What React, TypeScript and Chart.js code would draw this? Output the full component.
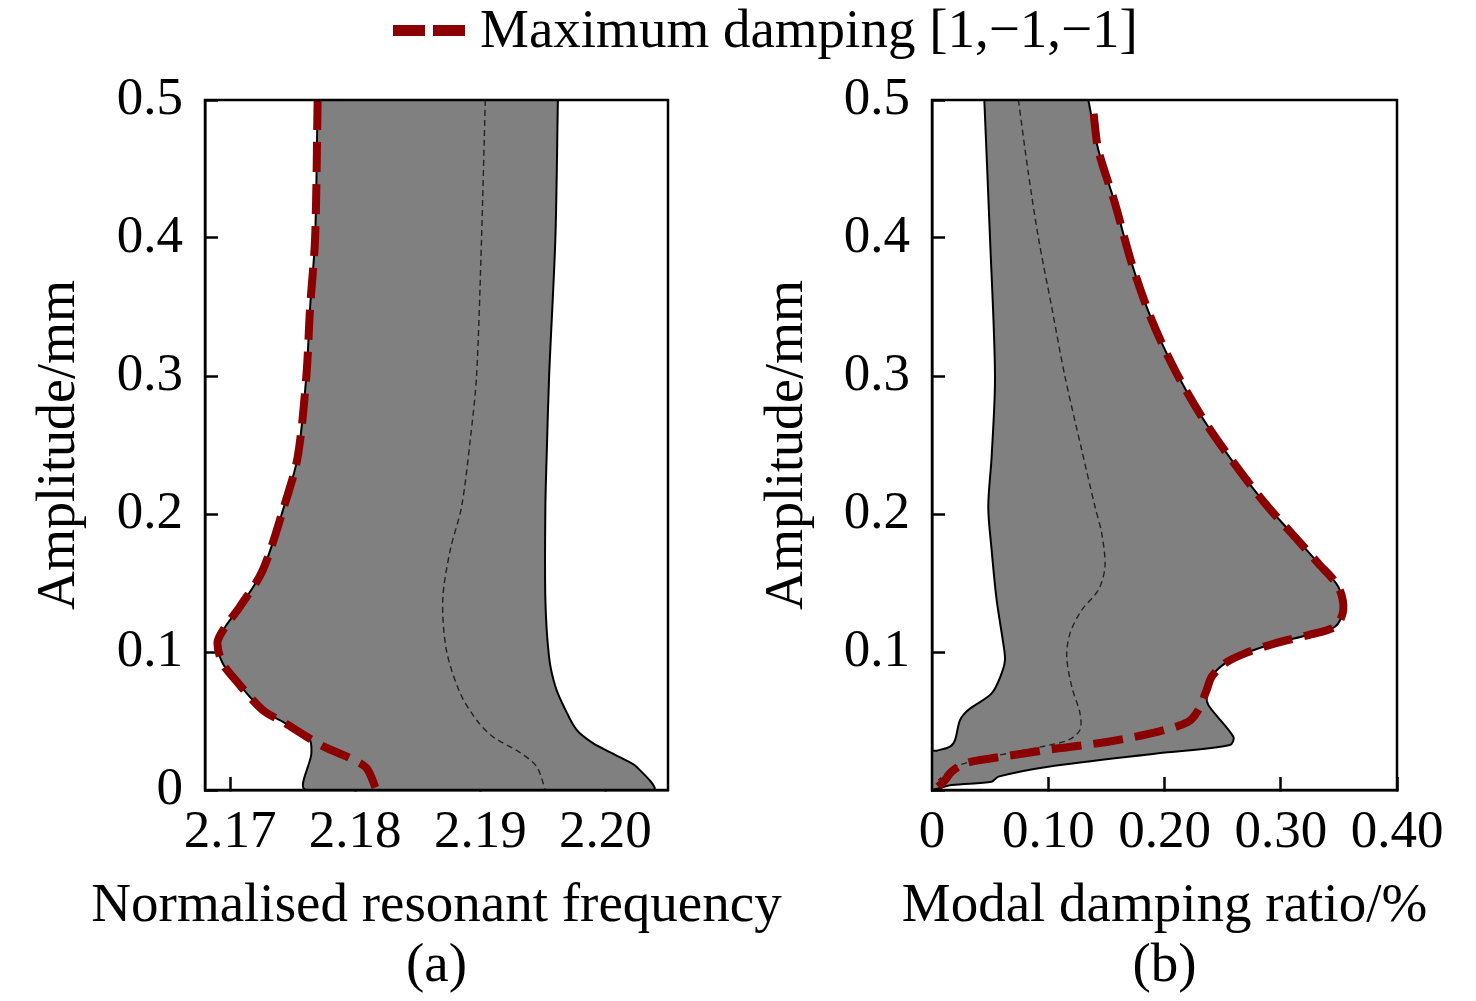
import { useEffect, useRef } from 'react';
import { Chart, registerables } from 'chart.js';

Chart.register(...registerables);

const SERIF = "'Liberation Serif', 'Times New Roman', serif";
const RED = '#8b0000';
const GREY = '#808080';

// (a) normalised resonant frequency vs amplitude
const freqAmpLower = [0.5, 0.4, 0.35, 0.3, 0.241, 0.205, 0.159, 0.133, 0.118, 0.107, 0.092, 0.078, 0.058, 0.049, 0.0377, 0.0265, 0];
const freqLower = [2.1770, 2.1768, 2.1764, 2.1761, 2.1754, 2.1743, 2.1726, 2.1708, 2.1696, 2.1690, 2.1694, 2.1706, 2.1726, 2.1743, 2.1763, 2.1765, 2.1761];
const freqAmpUpper = [0.5, 0.4, 0.3, 0.241, 0.205, 0.138, 0.096, 0.075, 0.060, 0.0435, 0.034, 0.024, 0.0167, 0];
const freqUpper = [2.1962, 2.1960, 2.1955, 2.1953, 2.1952, 2.1952, 2.1955, 2.1960, 2.1967, 2.1977, 2.1990, 2.2011, 2.2025, 2.2038];
const freqAmpMid = [0.5, 0.4, 0.3, 0.254, 0.205, 0.174, 0.138, 0.101, 0.070, 0.0507, 0.0386, 0.027, 0.017, 0];
const freqMid = [2.1904, 2.1901, 2.1897, 2.1892, 2.1885, 2.1876, 2.1870, 2.1873, 2.1884, 2.1897, 2.1910, 2.1932, 2.1945, 2.1952];
const freqAmpMax = [0.5, 0.4, 0.35, 0.3, 0.241, 0.205, 0.159, 0.133, 0.118, 0.107, 0.092, 0.078, 0.058, 0.049, 0.0377, 0.0314, 0.023, 0.016, 0];
const freqMax = [2.1770, 2.1768, 2.1764, 2.1761, 2.1754, 2.1743, 2.1726, 2.1708, 2.1696, 2.1690, 2.1694, 2.1706, 2.1726, 2.1743, 2.1763, 2.1775, 2.1796, 2.1809, 2.1817];
const freqTicks = [2.17, 2.18, 2.19, 2.20];

// (b) modal damping ratio vs amplitude
const dampAmpLower = [0.5, 0.4, 0.3, 0.2415, 0.2053, 0.1739, 0.1377, 0.1063, 0.0942, 0.0845, 0.07, 0.058, 0.0507, 0.0362, 0.0314, 0.0285, 0.028];
const dampLower = [0.045, 0.0499, 0.0542, 0.0513, 0.0484, 0.0513, 0.0556, 0.0613, 0.0628, 0.0599, 0.0513, 0.0312, 0.0241, 0.0198, 0.0155, 0.004, 0];
const dampAmpUpper = [0.5, 0.4638, 0.4251, 0.3816, 0.3406, 0.3043, 0.2705, 0.2391, 0.2077, 0.186, 0.1643, 0.1473, 0.1304, 0.1183, 0.1123, 0.1063, 0.099, 0.0918, 0.0821, 0.07, 0.0616, 0.0386, 0.0326, 0.0266, 0.0169, 0.0097, 0.006, 0.0036, 0];
const dampUpper = [0.1345, 0.1431, 0.1574, 0.1718, 0.1890, 0.2090, 0.2320, 0.2578, 0.2865, 0.3094, 0.3323, 0.3495, 0.3538, 0.3467, 0.3237, 0.2951, 0.2692, 0.2520, 0.2406, 0.2363, 0.2377, 0.2592, 0.2563, 0.1947, 0.1000, 0.0571, 0.0513, 0.0169, 0];
const dampAmpMid = [0.5, 0.4469, 0.4003, 0.3502, 0.2995, 0.2464, 0.2053, 0.186, 0.1618, 0.1449, 0.1304, 0.1135, 0.0966, 0.0749, 0.0556, 0.0435, 0.0362, 0.0314, 0.0241, 0.0169, 0.0072];
const dampMid = [0.0743, 0.0829, 0.0915, 0.1029, 0.1144, 0.1288, 0.1402, 0.146, 0.1488, 0.1431, 0.1288, 0.1187, 0.1159, 0.1202, 0.1273, 0.1273, 0.1173, 0.0944, 0.0513, 0.0198, 0.0054];
const dampAmpMax = [0.49, 0.4638, 0.4251, 0.3816, 0.3406, 0.3043, 0.2705, 0.2391, 0.2077, 0.186, 0.1643, 0.1473, 0.1304, 0.1183, 0.1123, 0.1063, 0.099, 0.0918, 0.0821, 0.0725, 0.058, 0.0495, 0.0423, 0.035, 0.0302, 0.0266, 0.023, 0.0193, 0.0133, 0.0072, 0.0024];
const dampMax = [0.139, 0.1431, 0.1574, 0.1718, 0.1890, 0.2090, 0.2320, 0.2578, 0.2865, 0.3094, 0.3323, 0.3495, 0.3538, 0.3467, 0.3237, 0.2951, 0.2692, 0.2520, 0.2406, 0.2363, 0.2291, 0.2205, 0.1947, 0.1517, 0.1087, 0.0800, 0.0513, 0.0284, 0.0169, 0.0112, 0.0054];
const dampTicks = [0, 0.1, 0.2, 0.3, 0.4];

const ampTicks = [0, 0.1, 0.2, 0.3, 0.4, 0.5];

const pts = (xs: number[], ys: number[]) => xs.map((x, i) => ({ x, y: ys[i] }));

// lower edge top->bottom, then upper edge bottom->top : closed band
const band = (lx: number[], ly: number[], ux: number[], uy: number[]) =>
    [...pts(lx, ly), ...pts(ux, uy).reverse()];

const framePlugin = {
    id: 'frame',
    afterDraw(chart: any) {
        const { ctx, chartArea: a } = chart;
        ctx.save();
        ctx.lineWidth = 2.5;
        ctx.strokeStyle = '#000';
        ctx.strokeRect(a.left, a.top, a.right - a.left, a.bottom - a.top);
        ctx.restore();
    }
};

interface PanelProps {
    left: number,
    width: number,
    band: { x: number, y: number }[],
    mid: { x: number, y: number }[],
    max: { x: number, y: number }[],
    xMin: number,
    xMax: number,
    xTicks: number[],
    xFmt: (v: number) => string,
    xTitle: string[],
    yFmt: (v: number) => string,
    yWidth: number,
    yTitlePad: number,
    padRight: number
}

const Panel = (props: PanelProps) => {
    const canvasRef = useRef<HTMLCanvasElement>(null);

    useEffect(() => {
        const ctx = canvasRef.current?.getContext('2d');
        if (!ctx) return;

        const tickFont = { family: SERIF, size: 53, lineHeight: 1.2 };
        const line = { pointRadius: 0, pointHoverRadius: 0, tension: 0.3 };

        // x title drawn by hand so it may run wider than the plot area
        const xTitlePlugin = {
            id: 'xTitle',
            afterDraw(chart: any) {
                const { ctx: c, chartArea: a } = chart;
                c.save();
                c.fillStyle = '#000';
                c.font = `55px ${SERIF}`;
                c.textAlign = 'center';
                c.textBaseline = 'middle';
                props.xTitle.forEach((t, i) => c.fillText(t, (a.left + a.right) / 2, 907 + i * 60));
                c.restore();
            }
        };

        const chart = new Chart(ctx, {
            type: 'line',
            data: {
                datasets: [
                    { ...line, data: props.max, borderColor: RED, borderWidth: 8, borderDash: [30, 12], fill: false },
                    { ...line, data: props.mid, borderColor: '#222', borderWidth: 1.4, borderDash: [6, 4], fill: false },
                    { ...line, data: props.band, borderColor: '#000', borderWidth: 2, backgroundColor: GREY, fill: 'shape' }
                ]
            } as any,
            options: {
                animation: false,
                responsive: false,
                events: [],
                layout: { padding: { top: 100, right: props.padRight, bottom: 0, left: 0 } },
                plugins: { legend: { display: false }, tooltip: { enabled: false } },
                scales: {
                    x: {
                        type: 'linear',
                        position: 'bottom',
                        min: props.xMin,
                        max: props.xMax,
                        z: 1,
                        afterFit: (s: any) => { s.height = 211; },
                        afterBuildTicks: (s: any) => { s.ticks = props.xTicks.map((value) => ({ value })); },
                        grid: { drawOnChartArea: false, tickLength: -13, tickWidth: 2.5, tickColor: '#000' },
                        border: { display: true, color: '#000', width: 2.5 },
                        ticks: { padding: 24, color: '#000', font: tickFont, maxRotation: 0, autoSkip: false, callback: (v: any) => props.xFmt(Number(v)) },
                        title: { display: false }
                    },
                    y: {
                        type: 'linear',
                        min: 0,
                        max: 0.5,
                        z: 1,
                        afterFit: (s: any) => { s.width = props.yWidth; },
                        afterBuildTicks: (s: any) => { s.ticks = ampTicks.map((value) => ({ value })); },
                        grid: { drawOnChartArea: false, tickLength: -13, tickWidth: 2.5, tickColor: '#000' },
                        border: { display: true, color: '#000', width: 2.5 },
                        ticks: { padding: 35, color: '#000', font: tickFont, autoSkip: false, callback: (v: any) => props.yFmt(Number(v)) },
                        title: { display: true, text: 'Amplitude/mm', color: '#000', font: { family: SERIF, size: 54, lineHeight: 1.2 }, padding: { top: props.yTitlePad, bottom: 0 } }
                    }
                }
            } as any,
            plugins: [framePlugin, xTitlePlugin]
        });

        return () => {
            chart.destroy();
        };
    }, []);

    return (
        <canvas
            ref={canvasRef}
            width={props.width}
            height={1001}
            style={{ position: 'absolute', left: props.left, top: 0, width: props.width, height: 1001 }}
        />
    );
};

export default function App() {
    return (
        <div style={{ position: 'fixed', left: 0, top: 0, width: 1476, height: 1001, background: '#fff', overflow: 'hidden' }}>
            <Panel
                left={0}
                width={820}
                band={band(freqLower, freqAmpLower, freqUpper, freqAmpUpper)}
                mid={pts(freqMid, freqAmpMid)}
                max={pts(freqMax, freqAmpMax)}
                xMin={2.168}
                xMax={2.205}
                xTicks={freqTicks}
                xFmt={(v) => v.toFixed(2)}
                xTitle={['Normalised resonant frequency', '(a)']}
                yFmt={(v) => (v === 0 ? '0' : v.toFixed(1))}
                yWidth={205}
                yTitlePad={27}
                padRight={152}
            />
            <Panel
                left={720}
                width={756}
                band={band(dampLower, dampAmpLower, dampUpper, dampAmpUpper)}
                mid={pts(dampMid, dampAmpMid)}
                max={pts(dampMax, dampAmpMax)}
                xMin={0}
                xMax={0.4}
                xTicks={dampTicks}
                xFmt={(v) => (v === 0 ? '0' : v.toFixed(2))}
                xTitle={['Modal damping ratio/%', '(b)']}
                yFmt={(v) => (v === 0 ? '' : v.toFixed(1))}
                yWidth={212}
                yTitlePad={35}
                padRight={79}
            />
            {/* legend */}
            <div style={{ position: 'absolute', left: 393, top: 25, width: 32, height: 11, background: RED }} />
            <div style={{ position: 'absolute', left: 433, top: 25, width: 32, height: 11, background: RED }} />
            <div style={{ position: 'absolute', left: 480, top: 2, fontFamily: SERIF, fontSize: 55, lineHeight: '54px', whiteSpace: 'nowrap', color: '#000' }}>
                Maximum damping [1,−1,−1]
            </div>
        </div>
    );
}
